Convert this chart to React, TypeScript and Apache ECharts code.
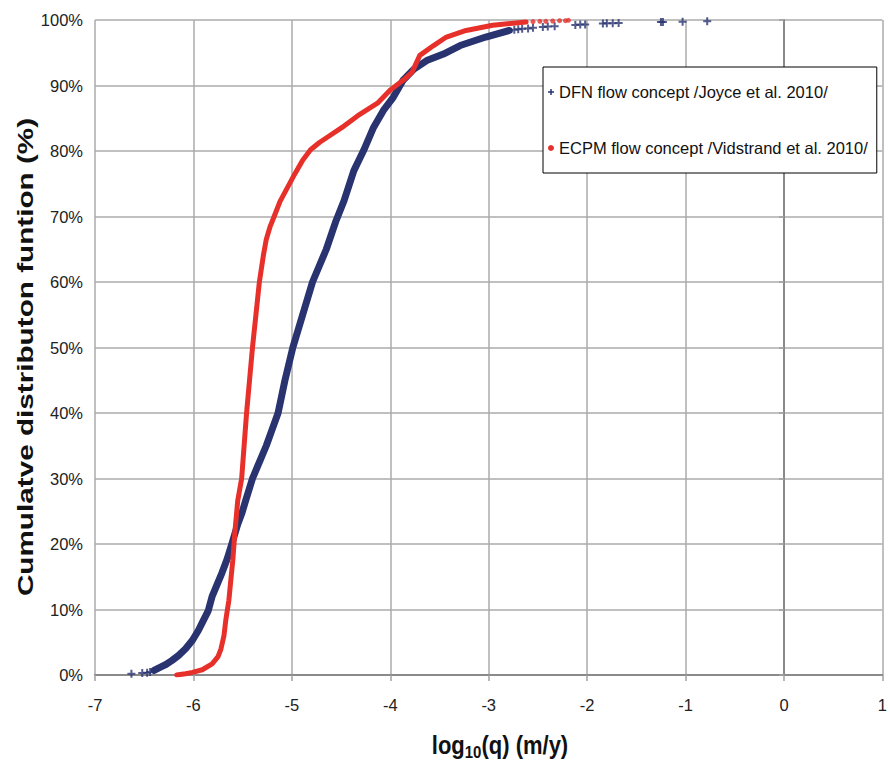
import React, { useEffect, useRef } from "react";
import * as echarts from "echarts";

// ---- data ----
const dfnName = "DFN flow concept /Joyce et al. 2010/";
const ecpmName = "ECPM flow concept /Vidstrand et al. 2010/";

const xTicks = [-7, -6, -5, -4, -3, -2, -1, 0, 1];
const yTicks = [0, 10, 20, 30, 40, 50, 60, 70, 80, 90, 100];

// DFN: dense part (log10 q, cumulative %)
const dfnX = [-6.4, -6.35, -6.28, -6.22, -6.15, -6.08, -6.01, -5.95, -5.9, -5.85, -5.81, -5.76, -5.71, -5.66, -5.61, -5.55, -5.51, -5.47, -5.4, -5.33, -5.26, -5.2, -5.14, -5.07, -4.99, -4.89, -4.79, -4.65, -4.55, -4.47, -4.37, -4.27, -4.17, -4.07, -3.97, -3.87, -3.76, -3.63, -3.46, -3.29, -3.03, -2.79];
const dfnY = [0.7, 1.1, 1.6, 2.2, 3.0, 4.0, 5.3, 6.8, 8.3, 9.8, 12.0, 13.8, 15.6, 17.6, 20.0, 23.0, 24.6, 26.6, 30.0, 32.5, 35.0, 37.5, 40.0, 45.0, 50.0, 55.0, 60.0, 65.0, 69.4, 72.4, 77.0, 80.1, 83.6, 86.2, 88.2, 90.8, 92.5, 93.8, 94.8, 96.1, 97.4, 98.4];
// DFN: sparse tail points
const dfnTailX = [-6.63, -6.52, -6.47, -6.44, -2.74, -2.7, -2.66, -2.6, -2.55, -2.45, -2.4, -2.33, -2.12, -2.07, -2.02, -1.84, -1.8, -1.74, -1.68, -1.25, -1.23, -1.03, -0.78];
const dfnTailY = [0.2, 0.3, 0.35, 0.45, 98.5, 98.6, 98.65, 98.7, 98.8, 98.95, 99.0, 99.05, 99.25, 99.3, 99.3, 99.45, 99.5, 99.5, 99.55, 99.7, 99.7, 99.75, 99.8];

// ECPM: dense part
const ecpmX = [-6.17, -6.08, -6.01, -5.91, -5.81, -5.75, -5.72, -5.69, -5.67, -5.64, -5.62, -5.6, -5.58, -5.55, -5.51, -5.46, -5.4, -5.33, -5.29, -5.26, -5.22, -5.18, -5.12, -5.06, -4.97, -4.89, -4.81, -4.72, -4.64, -4.49, -4.33, -4.13, -4.0, -3.87, -3.78, -3.7, -3.56, -3.43, -3.23, -2.96, -2.62];
const ecpmY = [0.0, 0.2, 0.4, 0.8, 1.7, 2.8, 4.0, 6.0, 8.5, 11.4, 14.5, 17.5, 21.6, 26.6, 30.0, 40.0, 50.0, 60.0, 64.0, 66.5, 68.5, 70.0, 72.3, 74.0, 76.5, 78.6, 80.2, 81.3, 82.1, 83.6, 85.4, 87.3, 89.3, 90.8, 92.0, 94.6, 96.1, 97.4, 98.4, 99.2, 99.7];
// ECPM: sparse tail points
const ecpmTailX = [-2.55, -2.48, -2.42, -2.35, -2.28, -2.22, -2.19];
const ecpmTailY = [99.75, 99.8, 99.8, 99.85, 99.9, 99.9, 99.95];

const NAVY = "#28336f";
const RED = "#e8302a";
const SANS = "'Liberation Sans', Arial, sans-serif";
const PLUS = "path://M3,0H5V3H8V5H5V8H3V5H0V3H3Z";

const pairs = (xs: number[], ys: number[]) => xs.map((x, i) => [x, ys[i]]);

export default function App() {
  const ref = useRef<HTMLDivElement>(null);
  useEffect(() => {
    if (!ref.current) return;
    const chart = echarts.init(ref.current, undefined, { renderer: "svg" });
    const gridColor = "#ababab";
    chart.setOption({
      animation: false,
      backgroundColor: "#fff",
      grid: { left: 95, right: 2, top: 20, bottom: 90, containLabel: false },
      xAxis: {
        type: "value",
        min: xTicks[0],
        max: xTicks[xTicks.length - 1],
        interval: 1,
        axisLine: { show: true, onZero: false, lineStyle: { color: "#8a8a8a", width: 2 } },
        axisTick: { show: true, length: 6, lineStyle: { color: "#a0a0a0", width: 1.5 } },
        axisLabel: { margin: 21, fontSize: 16.5, fontFamily: SANS, color: "#222" },
        splitLine: { show: true, lineStyle: { color: gridColor, width: 1.5 } },
      },
      yAxis: {
        type: "value",
        min: yTicks[0],
        max: yTicks[yTicks.length - 1],
        interval: 10,
        axisLine: { show: true, lineStyle: { color: "#8a8a8a", width: 2 } },
        axisTick: { show: true, length: 5, lineStyle: { color: "#a0a0a0", width: 1.5 } },
        axisLabel: { formatter: "{value}%", margin: 12, fontSize: 16.5, fontFamily: SANS, color: "#222" },
        splitLine: { show: true, lineStyle: { color: gridColor, width: 1.5 } },
      },
      legend: {
        orient: "vertical",
        left: 543,
        top: 67,
        data: [
          { name: dfnName, icon: PLUS },
          { name: ecpmName, icon: "circle" },
        ],
        itemWidth: 6,
        itemHeight: 6,
        itemGap: 36,
        padding: [15, 9, 15, 5],
        borderColor: "#000",
        borderWidth: 1,
        backgroundColor: "#fff",
        selectedMode: false,
        textStyle: { fontFamily: SANS, fontSize: 16.5, color: "#111", lineHeight: 20 },
      },
      graphic: [
        {
          type: "text",
          x: 25,
          y: 357,
          rotation: Math.PI / 2,
          scaleX: 1.35,
          style: {
            text: "Cumulatve distributon funtion (%)",
            fontFamily: SANS,
            fontWeight: "bold",
            fontSize: 22,
            fill: "#111",
            align: "center",
            verticalAlign: "middle",
          },
        },
        {
          type: "text",
          x: 500,
          y: 745,
          scaleY: 1.15,
          style: {
            text: "{a|log}{b|10}{a|(q) (m/y)}",
            align: "center",
            verticalAlign: "middle",
            fill: "#111",
            rich: {
              a: { fontFamily: SANS, fontWeight: "bold", fontSize: 22, fill: "#111" },
              b: { fontFamily: SANS, fontWeight: "bold", fontSize: 15, fill: "#111", padding: [12, 0, 0, 0] },
            },
          },
        },
      ],
      series: [
        {
          name: dfnName,
          type: "line",
          data: pairs(dfnX, dfnY),
          symbol: "none",
          showSymbol: false,
          itemStyle: { color: NAVY },
          lineStyle: { color: NAVY, width: 7, cap: "round", join: "round" },
          z: 2,
        },
        {
          name: dfnName,
          type: "scatter",
          data: pairs(dfnTailX, dfnTailY),
          symbol: PLUS,
          symbolSize: 8,
          itemStyle: { color: NAVY },
          z: 2,
        },
        {
          name: ecpmName,
          type: "line",
          data: pairs(ecpmX, ecpmY),
          symbol: "none",
          showSymbol: false,
          itemStyle: { color: RED },
          lineStyle: { color: RED, width: 5, cap: "round", join: "round" },
          z: 3,
        },
        {
          name: ecpmName,
          type: "scatter",
          data: pairs(ecpmTailX, ecpmTailY),
          symbol: "circle",
          symbolSize: 5,
          itemStyle: { color: RED },
          z: 3,
        },
      ],
    });
    return () => chart.dispose();
  }, []);
  return (
    <div
      ref={ref}
      style={{ position: "fixed", left: 0, top: 0, width: 890, height: 765, background: "#fff" }}
    />
  );
}
